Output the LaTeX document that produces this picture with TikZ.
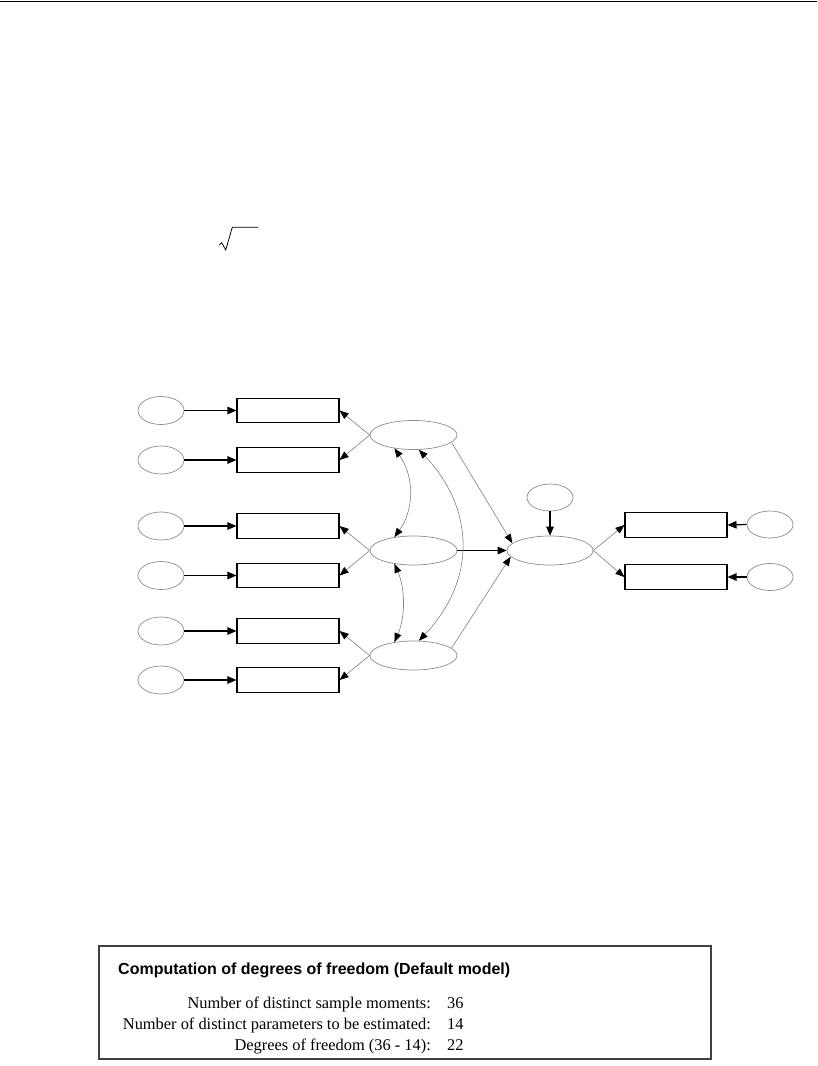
\documentclass[tikz,border=0pt]{standalone}
\usepackage{fontspec}
\setmainfont{Liberation Serif}
\newfontfamily\headfont{Liberation Sans}
\usetikzlibrary{arrows.meta,shapes.geometric}
\begin{document}
\begin{tikzpicture}[x=1pt,y=-1pt,
  errell/.style={ellipse,draw=black!45,line width=0.7pt,minimum width=46pt,minimum height=28pt,inner sep=0pt},
  latell/.style={ellipse,draw=black!45,line width=0.7pt,minimum width=87pt,minimum height=29pt,inner sep=0pt},
  obsbox/.style={rectangle,draw=black,line width=1.1pt,minimum width=102pt,minimum height=24.5pt,inner sep=0pt},
  blkarr/.style={draw=black,line width=1.2pt,-{Triangle[length=9pt,width=7.5pt]}},
  grayarr/.style={draw=black!50,line width=0.6pt,-{Triangle[length=9pt,width=7pt,color=black]}},
  covarr/.style={draw=black!50,line width=0.6pt,{Triangle[length=9pt,width=7pt,color=black]}-{Triangle[length=9pt,width=7pt,color=black]}},
  rowtxt/.style={inner sep=0pt,font=\fontsize{16.4}{20}\selectfont},
  headtxt/.style={inner sep=0pt,font=\headfont\bfseries\fontsize{16}{19}\selectfont}
]
\useasboundingbox (0,0) rectangle (817,1066);
% top rule
\draw[line width=1.6pt] (0,1.5) -- (817,1.5);
% radical sign
\draw[line width=0.8pt,line join=miter] (219.3,245) -- (221.7,242.7) -- (225.7,250) -- (232.3,227.3) -- (258.3,227.3);

% error terms (left)
\node[errell] (e1) at (161,410.5) {};
\node[errell] (e2) at (161,460) {};
\node[errell] (e3) at (161,526) {};
\node[errell] (e4) at (161,575.5) {};
\node[errell] (e5) at (161,631) {};
\node[errell] (e6) at (161,680) {};
% observed (left)
\node[obsbox] (x1) at (288,410.5) {};
\node[obsbox] (x2) at (288,460) {};
\node[obsbox] (x3) at (288,526) {};
\node[obsbox] (x4) at (288,575.5) {};
\node[obsbox] (x5) at (288,631) {};
\node[obsbox] (x6) at (288,680) {};
% latent
\node[latell] (L1) at (413.5,435) {};
\node[latell] (L2) at (413.5,550.5) {};
\node[latell] (L3) at (413.5,655.5) {};
\node[latell,minimum width=86pt] (L4) at (550,550.5) {};
\node[errell,minimum height=27pt] (d1) at (550,497.5) {};
% observed (right)
\node[obsbox] (y1) at (676,525) {};
\node[obsbox] (y2) at (676,577) {};
\node[errell,minimum height=27pt] (e7) at (770,524.5) {};
\node[errell,minimum height=27pt] (e8) at (770,577) {};

% error -> observed
\foreach \i in {1,...,6} \draw[blkarr] (e\i.east) -- (x\i.west);
\draw[blkarr] (e7.west) -- (y1.east);
\draw[blkarr] (e8.west) -- (y2.east);
% latent -> indicators
\draw[grayarr] (L1.west) -- (x1.east);
\draw[grayarr] (L1.west) -- (x2.east);
\draw[grayarr] (L2.west) -- (x3.east);
\draw[grayarr] (L2.west) -- (x4.east);
\draw[grayarr] (L3.west) -- (x5.east);
\draw[grayarr] (L3.west) -- (x6.east);
\draw[grayarr] (L4.east) -- (y1.west);
\draw[grayarr] (L4.east) -- (y2.west);
% structural paths
\draw[grayarr] (L1.-11) -- (L4.169);
\draw[blkarr] (L2.east) -- (L4.west);
\draw[grayarr] (L3.11) -- (L4.189);
\draw[blkarr] (d1.south) -- (L4.north);
% covariances
\draw[covarr] (L1.215) .. controls +(20,28) and +(20,-28) .. (L2.145);
\draw[covarr] (L2.215) .. controls +(11,25) and +(11,-25) .. (L3.145);
\draw[covarr] (L1.290) .. controls +(57,60) and +(57,-60) .. (L3.70);

% degrees of freedom table
\node[draw=black!75,line width=1.5pt,minimum width=612pt,minimum height=113pt,inner sep=0pt,anchor=north west] (tbl) at (98,945) {};
\node[headtxt,anchor=base west] (ttl) at (118,974) {Computation of degrees of freedom (Default model)};
\node[rowtxt,anchor=base east] (r1) at (431,1008) {Number of distinct sample moments:};
\node[rowtxt,anchor=base east] (r2) at (431,1029) {Number of distinct parameters to be estimated:};
\node[rowtxt,anchor=base east] (r3) at (431,1050) {Degrees of freedom (36 - 14):};
\node[rowtxt,anchor=base west] (v1) at (447,1008) {36};
\node[rowtxt,anchor=base west] (v2) at (447,1029) {14};
\node[rowtxt,anchor=base west] (v3) at (447,1050) {22};
\end{tikzpicture}
\end{document}
